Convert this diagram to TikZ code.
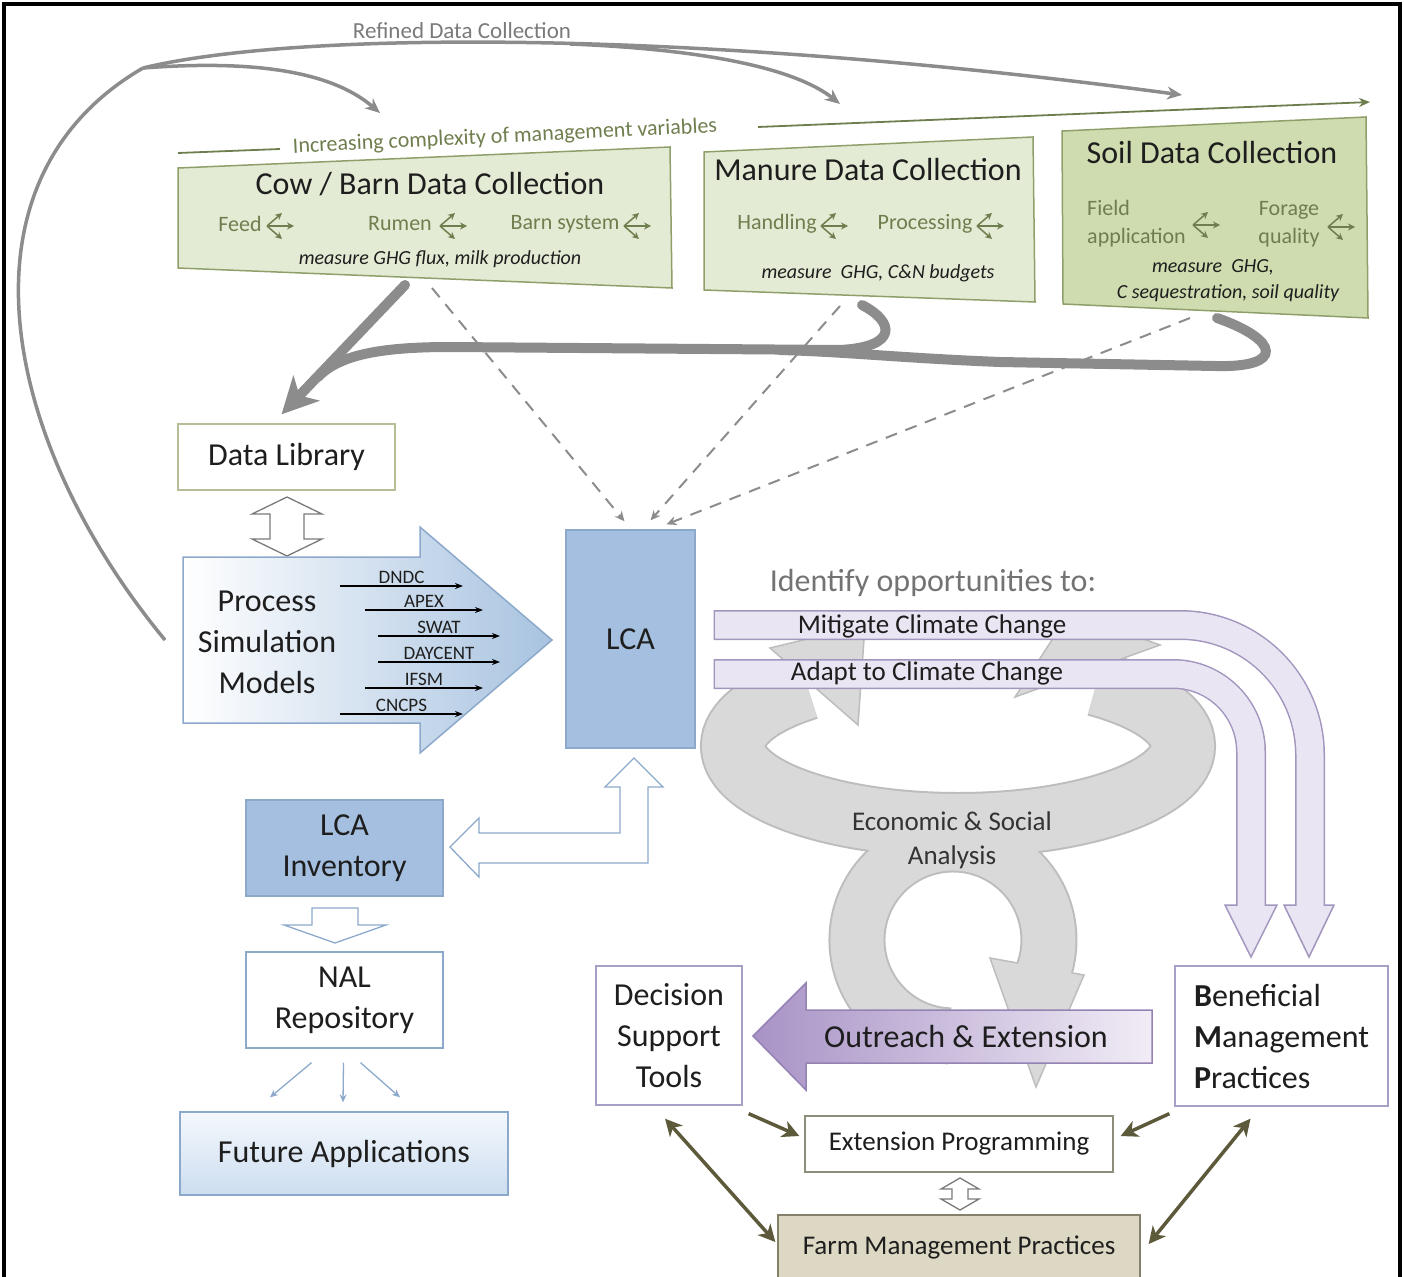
\documentclass[tikz,border=0pt]{standalone}
\usepackage{fontspec}
\setmainfont{Carlito}
\usetikzlibrary{arrows.meta,calc,positioning}

\definecolor{greenfill}{HTML}{E4EBD4}
\definecolor{soilfill}{HTML}{CEDCAF}
\definecolor{greenedge}{HTML}{8F9F6A}
\definecolor{olivetext}{HTML}{6F7E4E}
\definecolor{pipegray}{HTML}{8C8C8C}
\definecolor{refgray}{HTML}{7A7A7A}
\definecolor{libedge}{HTML}{B4BF98}
\definecolor{lcablue}{HTML}{A4BFDF}
\definecolor{blueedge}{HTML}{8CA9CC}
\definecolor{psmblue}{HTML}{A8C3E0}
\definecolor{futtop}{HTML}{F4F8FC}
\definecolor{futbot}{HTML}{CCDDF0}
\definecolor{bandfill}{HTML}{EAE5F2}
\definecolor{bandedge}{HTML}{A295BE}
\definecolor{outleft}{HTML}{A893C6}
\definecolor{outright}{HTML}{F1ECF6}
\definecolor{outedge}{HTML}{9483B2}
\definecolor{loopfill}{HTML}{D9D9D9}
\definecolor{loopedge}{HTML}{BDBDBD}
\definecolor{lavedge}{HTML}{A8A0C4}
\definecolor{extedge}{HTML}{8E8C7A}
\definecolor{farmfill}{HTML}{DCD8C3}
\definecolor{farmedge}{HTML}{85806A}
\definecolor{oliveline}{HTML}{5D5A3B}
\definecolor{inktext}{HTML}{1E1E1E}

% two passes of the analysis loop (edge, then fill)
\newcommand{\looparcs}[3]{%
  \draw[#1, line width=#2] (958,825) arc[start angle=90, end angle=228, x radius=225, y radius=79]
            (958,825) arc[start angle=90, end angle=-52, x radius=225, y radius=79];
  \draw[#1, line width=#3] (949.6,1035.9) arc[start angle=92, end angle=382, radius=96];}
% two passes of the purple bands
\newcommand{\bandpaths}[2]{%
  \draw[#1, rounded corners=130pt] (#2,625) -- (1310,625) -- (1310,907);
  \draw[#1, rounded corners=78pt] (#2,674) -- (1251,674) -- (1251,907);}

\tikzset{
  olivetip/.tip={Stealth[length=17pt,width=17pt,inset=5pt]},
  forkarrows/.pic={
    \draw[olivetext, line width=1.5pt, -{Stealth[length=7pt,width=7pt]}] (0,0) -- (15,-13);
    \draw[olivetext, line width=1.5pt, -{Stealth[length=7pt,width=7pt]}] (0,0) -- (27,0);
    \draw[olivetext, line width=1.5pt, -{Stealth[length=7pt,width=7pt]}] (0,0) -- (15,13);
  }
}

\begin{document}
\begin{tikzpicture}[x=1pt, y=-1pt,
    every node/.style={inner sep=0pt, text=inktext},
    bigtxt/.style={font=\fontsize{32}{41}\selectfont},
    midtxt/.style={font=\fontsize{27}{34}\selectfont},
    subtxt/.style={font=\fontsize{22}{28}\selectfont, text=olivetext},
    meastxt/.style={font=\fontsize{20}{26}\selectfont\itshape},
    modeltxt/.style={font=\fontsize{19}{22}\selectfont},
    plainbox/.style={draw=#1, line width=1.3pt, fill=white, align=center},
    bluebox/.style={draw=blueedge, line width=1.3pt, fill=lcablue, align=center},
    collectbox/.style={draw=greenedge, line width=1.5pt, fill=#1},
    datapipe/.style={draw=pipegray, line width=10pt, line cap=round},
    refined/.style={draw=pipegray, line width=3.5pt, -{Stealth[length=15pt,width=13pt]}},
    dashlink/.style={draw=pipegray, line width=2pt, dash pattern=on 12pt off 9pt, -{Stealth[length=10pt,width=9pt]}},
    modelarrow/.style={line width=1.4pt, -{Stealth[length=8pt,width=6pt]}},
    olivearrow/.style={draw=oliveline, line width=3.5pt},
    bluethin/.style={draw=blueedge, line width=1.3pt, -{Stealth[length=8pt,width=7pt]}},
    hollow/.style={fill=white, draw=#1, line width=1.3pt},
    headshape/.style 2 args={fill=#1, draw=#2, line width=1.5pt},
  ]
\useasboundingbox (0,0) rectangle (1404,1276);

% refined data collection
\node[font=\fontsize{23}{26}\selectfont, text=refgray] (refinedlbl) at (462,31) {Refined Data Collection};
\coordinate (psmW) at (165,640);
\coordinate (branch) at (143,68);
\coordinate (cowIn) at (380,113);
\coordinate (manIn) at (840,104);
\coordinate (soilIn) at (1182,95);
\draw[pipegray, line width=3.5pt] (psmW) .. controls (0,440) and (-50,180) .. (branch);
\draw[refined] (branch) .. controls (300,30) and (700,30) .. (soilIn);
\draw[refined] (branch) .. controls (250,60) and (330,70) .. (cowIn);
\draw[refined] (570,44) .. controls (720,50) and (800,72) .. (manIn);

% increasing complexity
\draw[olivetext, line width=1.8pt] (178,153) -- (280,149);
\node[subtxt, rotate=2.8] (complexlbl) at (505,137) {Increasing complexity of management variables};
\draw[olivetext, line width=1.8pt, -{Stealth[length=11pt,width=9pt]}] (758,127) -- (1370,102);

% data collection boxes
\draw[collectbox=greenfill] (178,168) -- (670,147) -- (672,288) -- (178,268) -- cycle;
\draw[collectbox=greenfill] (704,152) -- (1033,137) -- (1035,302) -- (704,290) -- cycle;
\draw[collectbox=soilfill] (1062,131) -- (1366,117) -- (1368,318) -- (1063,304) -- cycle;

\node[bigtxt] (cowttl) at (430,184) {Cow / Barn Data Collection};
\node[subtxt] (feed) at (240,224) {Feed};
\node[subtxt] (rumen) at (400,224) {Rumen};
\node[subtxt] (barn) at (565,224) {Barn system};
\node[meastxt] (cowmeas) at (440,259) {measure GHG flux, milk production};
\pic at (267,226) {forkarrows};
\pic at (440,226) {forkarrows};
\pic at (624,226) {forkarrows};

\node[bigtxt] (manttl) at (868,170) {Manure Data Collection};
\node[subtxt] (handling) at (777,224) {Handling};
\node[subtxt] (processing) at (925,224) {Processing};
\node[meastxt] (manmeas) at (878,273) {measure\ \ GHG, C\&N budgets};
\pic at (821,226) {forkarrows};
\pic at (977,226) {forkarrows};

\node[bigtxt] (soilttl) at (1212,153) {Soil Data Collection};
\node[subtxt, anchor=west, align=left] (field) at (1087,224) {Field\\application};
\node[subtxt, align=center] (forage) at (1289,224) {Forage\\quality};
\node[meastxt] (soilmeas1) at (1213,267) {measure\ \ GHG,};
\node[meastxt] (soilmeas2) at (1228,293) {C sequestration, soil quality};
\pic at (1193,225) {forkarrows};
\pic at (1328,227) {forkarrows};

% boxes
\node[plainbox=libedge, bigtxt, minimum width=217pt, minimum height=66pt] (datalib) at (286.5,457) {Data Library};
\node[bluebox, bigtxt, minimum width=129pt, minimum height=218pt] (lca) at (630.5,639) {LCA};
\node[bluebox, bigtxt, minimum width=197pt, minimum height=96pt] (lcainv) at (344.5,848) {LCA\\Inventory};
\node[plainbox=blueedge, bigtxt, minimum width=197pt, minimum height=96pt] (nal) at (344.5,1000) {NAL\\Repository};
\node[draw=blueedge, line width=1.3pt, top color=futtop, bottom color=futbot, bigtxt, minimum width=328pt, minimum height=83pt] (future) at (344,1153.5) {Future Applications};

% data pipes to the library
\coordinate (cowS) at (405,285);
\coordinate (manS) at (862,305);
\coordinate (soilS) at (1217,318);
\coordinate (merge) at (318,377);
\draw[datapipe] (soilS) .. controls (1280,340) and (1285,368) .. (1215,366) -- (1000,362) .. controls (900,358) and (850,352) .. (780,350);
\draw[datapipe] (manS) .. controls (895,322) and (898,347) .. (840,350) -- (450,347) .. controls (380,347) and (339,355) .. (merge);
\draw[datapipe, -{Stealth[length=36pt,width=36pt,inset=10pt]}] (cowS) -- ($(datalib.north)+(-5,-9)$);

% dashed links to LCA
\coordinate (cowD) at (432,288);
\coordinate (manD) at (840,306);
\coordinate (soilD) at (1190,318);
\draw[dashlink] (cowD) -- ($(lca.north)+(-6,-8)$);
\draw[dashlink] (manD) -- ($(lca.north)+(20,-9)$);
\draw[dashlink] (soilD) -- ($(lca.north)+(36,-5)$);

% library <-> models
\draw[hollow=refgray] (287,497) -- (322,514) -- (304,514) -- (304,539) -- (322,539) -- (287,556)
  -- (252,539) -- (270,539) -- (270,514) -- (252,514) -- cycle;

% process simulation models
\draw[draw=blueedge, line width=1.5pt, left color=white, right color=psmblue]
  (183,557) -- (420,557) -- (420,527) -- (552,640) -- (420,753) -- (420,723) -- (183,723) -- cycle;
\node[bigtxt, align=center] (psm) at (267,642) {Process\\Simulation\\Models};
\foreach \lbl/\xa/\xb/\yy in {DNDC/340/463/586, APEX/365/483/610, SWAT/378/500/636,
    DAYCENT/378/500/662, IFSM/365/483/688, CNCPS/340/463/714}
  \draw[modelarrow] (\xa,\yy) -- (\xb,\yy) node[midway, above=2pt, modeltxt] {\lbl};

% LCA <-> inventory, inventory -> NAL
\draw[hollow=blueedge] (634,758) -- (663,787) -- (648,787) -- (648,863) -- (479,863) -- (479,877)
  -- (450,847) -- (479,818) -- (479,833) -- (620,833) -- (620,787) -- (605,787) -- cycle;
\draw[hollow=blueedge] (312,908) -- (358,908) -- (358,925) -- (386,925) -- (335,943) -- (284,925) -- (312,925) -- cycle;
\draw[bluethin] ($(nal.south)+(-33,14)$) -- ($(future.north)+(-74,-14)$);
\draw[bluethin] ($(nal.south)+(-1,14)$) -- ($(future.north)+(-1,-9)$);
\draw[bluethin] ($(nal.south)+(16,14)$) -- ($(future.north)+(56,-14)$);

% economic and social analysis loop
\looparcs{loopedge}{66pt}{57pt}
\draw[headshape={loopfill}{loopedge}] (770,648) -- (865,625) -- (858,725) -- cycle;
\draw[headshape={loopfill}{loopedge}] (1015,697) -- (1070,612) -- (1160,645) -- cycle;
\draw[headshape={loopfill}{loopedge}] (990,958) -- (1036,1087) -- (1084,975) -- cycle;
\looparcs{loopfill}{62pt}{53pt}
\node[midtxt, align=center, text=black!80] (econ) at (952,840) {Economic \& Social\\Analysis};

% identify opportunities
\node[bigtxt, text=black!55] (identify) at (933,583) {Identify opportunities to:};
\bandpaths{line width=30pt, bandedge}{713.5}
\draw[headshape={bandfill}{bandedge}] (1284,905) -- (1334,905) -- (1309,957) -- cycle;
\draw[headshape={bandfill}{bandedge}] (1225,905) -- (1277,905) -- (1251,957) -- cycle;
\bandpaths{line width=27pt, bandfill}{715}
\node[midtxt] (mitigate) at (932,626) {Mitigate Climate Change};
\node[midtxt] (adapt) at (927,673) {Adapt to Climate Change};

% outreach
\draw[draw=outedge, line width=1.5pt, left color=outleft, right color=outright]
  (1152,1010) -- (806,1010) -- (806,983) -- (753,1036) -- (806,1090) -- (806,1063) -- (1152,1063) -- cycle;
\node[bigtxt] (outreach) at (966,1036) {Outreach \& Extension};

% practice boxes
\node[plainbox=lavedge, bigtxt, minimum width=146pt, minimum height=139pt] (dst) at (669,1035.5) {Decision\\Support\\Tools};
\node[plainbox=lavedge, bigtxt, align=left, minimum width=213pt, minimum height=140pt] (bmp) at (1281.5,1036) {\textbf{B}eneficial\\\textbf{M}anagement\\\textbf{P}ractices};
\node[plainbox=extedge, midtxt, minimum width=308pt, minimum height=56pt] (extprog) at (959,1144) {Extension Programming};
\node[draw=farmedge, fill=farmfill, line width=1.3pt, midtxt, minimum width=362pt, minimum height=64pt] (farm) at (959,1247) {Farm Management Practices};

\draw[hollow=refgray] (960,1178) -- (979,1189) -- (968,1189) -- (968,1199) -- (979,1199) -- (960,1210)
  -- (941,1199) -- (952,1199) -- (952,1189) -- (941,1189) -- cycle;
\draw[olivearrow, -olivetip] ($(dst.south east)+(6,8)$) -- ($(extprog.west)+(-5,-8)$);
\draw[olivearrow, -olivetip] ($(bmp.south west)+(-5,7)$) -- ($(extprog.east)+(7,-8)$);
\draw[olivearrow, olivetip-olivetip] ($(dst.south)+(-4,13)$) -- ($(farm.west)+(-2,-5)$);
\draw[olivearrow, olivetip-olivetip] ($(bmp.south)+(-31,12)$) -- ($(farm.east)+(8,-3)$);

% frame
\draw[line width=4pt] (4,4) rectangle (1400,1295);
\end{tikzpicture}
\end{document}
